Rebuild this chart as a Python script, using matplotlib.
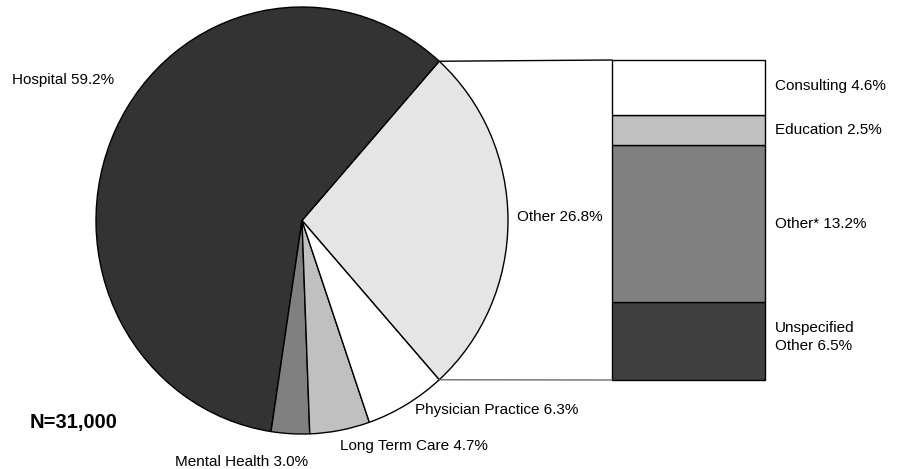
import numpy as np
import matplotlib
matplotlib.use("Agg")
import matplotlib.pyplot as plt
from matplotlib.patches import ConnectionPatch

plt.rcParams['font.family'] = ['Liberation Sans', 'DejaVu Sans']

# Employment setting shares (percent)
pie_labels = ["Other", "Hospital", "Mental Health", "Long Term Care", "Physician Practice"]
pie_values = [26.8, 59.2, 3.0, 4.7, 6.3]
pie_colors = ["#e5e5e5", "#333333", "#808080", "#c0c0c0", "#ffffff"]

# Breakdown of "Other", listed bottom to top
bar_labels = ["Unspecified\nOther", "Other*", "Education", "Consulting"]
bar_values = [6.5, 13.2, 2.5, 4.6]
bar_colors = ["#404040", "#808080", "#c0c0c0", "#ffffff"]

sample_note = "N=31,000"

W, H = 901, 469
fig = plt.figure(figsize=(W / 100, H / 100), dpi=100)


def px_rect(x0, y0, x1, y1):
    return [x0 / W, 1 - y1 / H, (x1 - x0) / W, (y1 - y0) / H]


# Pie
ax_pie = fig.add_axes(px_rect(96, 7, 508, 434))
other_angle = pie_values[0] / sum(pie_values) * 360
ax_pie.pie(pie_values, colors=pie_colors, startangle=-other_angle / 2,
           counterclock=True, radius=1,
           wedgeprops=dict(edgecolor="black", linewidth=1.0))
ax_pie.set_aspect("auto")
ax_pie.set_xlim(-1, 1)
ax_pie.set_ylim(-1, 1)
ax_pie.axis("off")

# Stacked bar
ax_bar = fig.add_axes(px_rect(612, 60, 765, 380))
bottom = 0.0
for v, c in zip(bar_values, bar_colors):
    ax_bar.bar(0, v, bottom=bottom, width=1.0, color=c, edgecolor="black",
               linewidth=1.0, clip_on=False)
    bottom += v
total = bottom
ax_bar.set_xlim(-0.5, 0.5)
ax_bar.set_ylim(0, total)
ax_bar.axis("off")

# Connector lines from the "Other" wedge to the bar
theta = np.deg2rad(other_angle / 2)
for sign, ytarget, col in [(1, total, "black"), (-1, 0, "#707070")]:
    con = ConnectionPatch(xyA=(np.cos(theta), sign * np.sin(theta)), coordsA=ax_pie.transData,
                          xyB=(-0.5, ytarget), coordsB=ax_bar.transData,
                          color=col, linewidth=1.0)
    fig.add_artist(con)


def label(x, y, s, **kw):
    fig.text(x / W, 1 - y / H, s, va="center", ha="left", fontsize=11, **kw)


vals = dict(zip(pie_labels, pie_values))
label(12, 80, f"Hospital {vals['Hospital']:.1f}%")
label(517, 217, f"Other {vals['Other']:.1f}%")
label(415, 410, f"Physician Practice {vals['Physician Practice']:.1f}%")
label(340, 446, f"Long Term Care {vals['Long Term Care']:.1f}%")
label(175, 462, f"Mental Health {vals['Mental Health']:.1f}%")

bvals = dict(zip(bar_labels, bar_values))
label(775, 86, f"Consulting {bvals['Consulting']:.1f}%")
label(775, 130, f"Education {bvals['Education']:.1f}%")
label(775, 224, f"Other* {bvals['Other*']:.1f}%")
label(775, 337, f"Unspecified\nOther {bvals['Unspecified' + chr(10) + 'Other']:.1f}%", linespacing=1.3)

fig.text(30 / W, 1 - 422 / H, sample_note, va="center", ha="left",
         fontsize=14.5, fontweight="bold")

fig.savefig("out.png", dpi=100)
